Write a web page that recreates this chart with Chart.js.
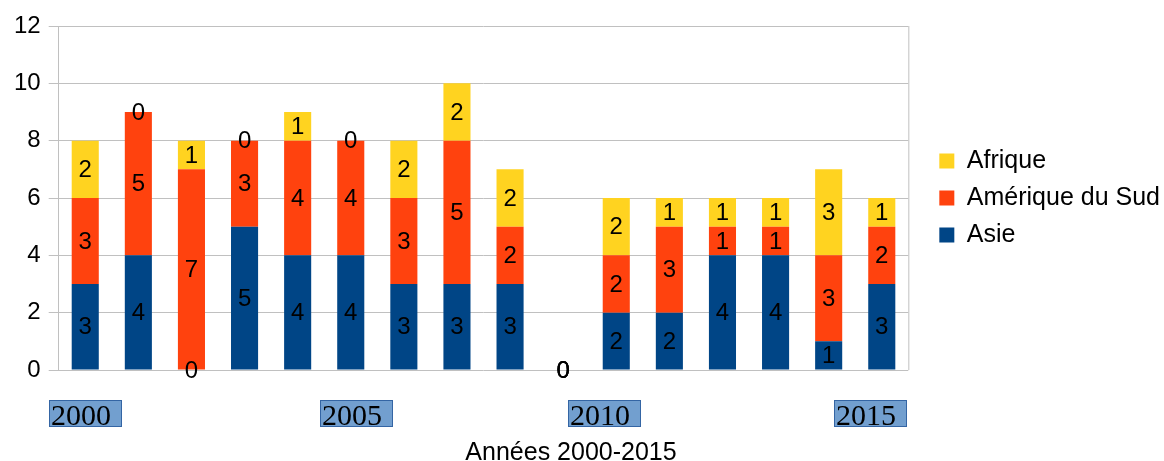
<!DOCTYPE html>
<html>
<head>
<meta charset="utf-8">
<script src="https://cdn.jsdelivr.net/npm/chart.js@4"></script>
<style>
  html, body { margin: 0; padding: 0; background: #fff; }
  canvas { display: block; }
</style>
</head>
<body>
<canvas id="chart" width="1164" height="461"></canvas>
<script>
// années 2000-2015
const years = ['2000', '2001', '2002', '2003', '2004', '2005', '2006', '2007',
               '2008', '2009', '2010', '2011', '2012', '2013', '2014', '2015'];
const asie    = [3, 4, 0, 5, 4, 4, 3, 3, 3, 0, 2, 2, 4, 4, 1, 3];
const amSud   = [3, 5, 7, 3, 4, 4, 3, 5, 2, 0, 2, 3, 1, 1, 3, 2];
const afrique = [2, 0, 1, 0, 1, 0, 2, 2, 2, 0, 2, 1, 1, 1, 3, 1];
const yTicks  = [0, 2, 4, 6, 8, 10, 12];
const shownYears = ['2000', '2005', '2010', '2015'];
const axisTitle = 'Années 2000-2015';

const gridColor = '#c0c0c0';
// the year boxes are not exactly centred under their bars in the original
const yearNudge = { '2000': 0, '2005': 6, '2010': -12, '2015': -11 };

// value labels in the middle of each segment
const valueLabels = {
    id: 'valueLabels',
    afterDatasetsDraw(chart) {
        const ctx = chart.ctx;
        ctx.save();
        ctx.font = '24px "Liberation Sans", Arial, sans-serif';
        ctx.fillStyle = '#000';
        ctx.textAlign = 'center';
        ctx.textBaseline = 'middle';
        chart.data.datasets.forEach((ds, di) => {
            const meta = chart.getDatasetMeta(di);
            meta.data.forEach((bar, i) => {
                const y = (bar.y + bar.base) / 2;
                ctx.fillText(String(ds.data[i]), bar.x, y + 1);
            });
        });
        ctx.restore();
    }
};

// right border of the plot, highlighted year labels, axis title
const frameAndYears = {
    id: 'frameAndYears',
    beforeDatasetsDraw(chart) {
        const { ctx, chartArea } = chart;
        ctx.save();
        ctx.strokeStyle = gridColor;
        ctx.lineWidth = 1;
        ctx.beginPath();
        ctx.moveTo(chartArea.right + 0.5, chartArea.top);
        ctx.lineTo(chartArea.right + 0.5, chartArea.bottom);
        ctx.stroke();
        ctx.restore();
    },
    afterDraw(chart) {
        const { ctx, chartArea } = chart;
        const xScale = chart.scales.x;
        ctx.save();
        ctx.font = '30px "Liberation Serif", "Times New Roman", serif';
        ctx.textAlign = 'left';
        ctx.textBaseline = 'alphabetic';
        const top = chartArea.bottom + 30;
        years.forEach((yr, i) => {
            if (!shownYears.includes(yr)) return;
            const x = xScale.getPixelForTick(i) + (yearNudge[yr] || 0);
            const left = Math.round(x - 36.5);
            ctx.fillStyle = '#729fcf';
            ctx.fillRect(left, top, 73, 27);
            ctx.strokeStyle = '#3465a4';
            ctx.lineWidth = 1;
            ctx.strokeRect(left + 0.5, top + 0.5, 72, 26);
            ctx.fillStyle = '#000';
            ctx.fillText(yr, left + 2, top + 25);
        });

        // axis title
        ctx.font = '25px "Liberation Sans", Arial, sans-serif';
        ctx.textAlign = 'center';
        ctx.fillText(axisTitle, chart.width / 2 - 11, chart.height - 1);
        ctx.restore();
    }
};

new Chart(document.getElementById('chart'), {
    type: 'bar',
    data: {
        labels: years,
        datasets: [
            { label: 'Asie', data: asie, backgroundColor: '#004586' },
            { label: 'Amérique du Sud', data: amSud, backgroundColor: '#ff420e' },
            { label: 'Afrique', data: afrique, backgroundColor: '#ffd320' }
        ]
    },
    options: {
        responsive: false,
        devicePixelRatio: 1,
        animation: false,
        layout: {
            padding: { top: 26, left: 6, right: -6, bottom: 0 }
        },
        datasets: {
            bar: { categoryPercentage: 1, barPercentage: 0.51 }
        },
        scales: {
            x: {
                stacked: true,
                grid: { display: false, drawTicks: false },
                border: { display: false },
                ticks: { display: false },
                // room for the year boxes and the axis title
                afterFit(scale) { scale.height = 91; }
            },
            y: {
                stacked: true,
                min: 0,
                max: 12,
                afterBuildTicks(scale) {
                    scale.ticks = yTicks.map(v => ({ value: v }));
                },
                grid: { color: gridColor, tickLength: 10 },
                border: { color: gridColor },
                ticks: {
                    padding: 8,
                    color: '#000',
                    font: { family: '"Liberation Sans", Arial, sans-serif', size: 24 }
                }
            },
            // empty gap between the plot and the legend
            gap: {
                type: 'linear',
                position: 'right',
                display: true,
                grid: { display: false, drawTicks: false },
                border: { display: false },
                ticks: { display: false },
                afterFit(scale) { scale.width = 19; }
            }
        },
        plugins: {
            legend: {
                position: 'right',
                fullSize: false,
                maxWidth: 300,
                reverse: true,
                labels: {
                    boxWidth: 15,
                    boxHeight: 15,
                    padding: 12,
                    color: '#000',
                    font: { family: '"Liberation Sans", Arial, sans-serif', size: 25 }
                }
            },
            title: { display: false },
            tooltip: { enabled: false }
        }
    },
    plugins: [valueLabels, frameAndYears]
});
</script>
</body>
</html>
